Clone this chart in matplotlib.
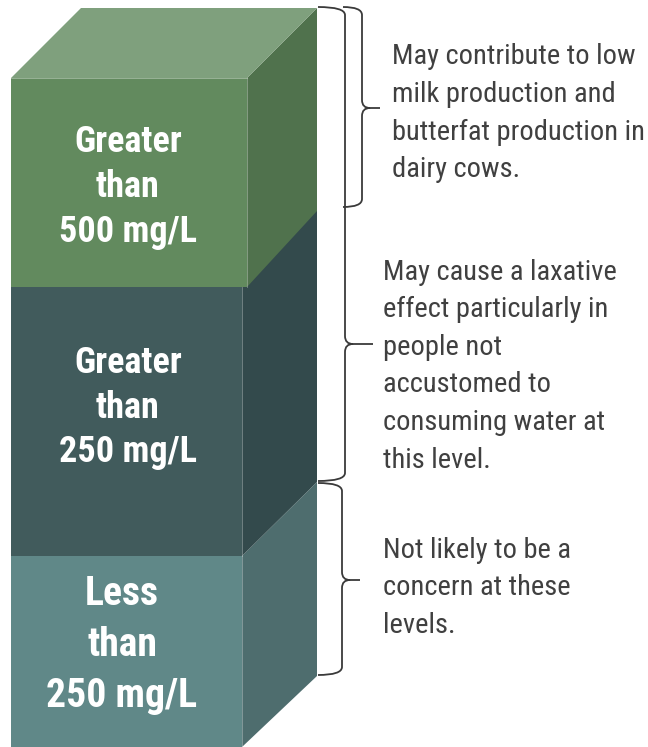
import matplotlib
matplotlib.use("Agg")
import matplotlib.pyplot as plt
from matplotlib.patches import Polygon, PathPatch
from matplotlib.path import Path
from matplotlib import font_manager

# block labels, top to bottom
block_labels = [["Greater", "than", "500 mg/L"],
                ["Greater", "than", "250 mg/L"],
                ["Less", "than", "250 mg/L"]]
# notes next to the braces
notes = [["May contribute to low", "milk production and",
          "butterfat production in", "dairy cows."],
         ["May cause a laxative", "effect particularly in", "people not",
          "accustomed to", "consuming water at", "this level."],
         ["Not likely to be a", "concern at these", "levels."]]

front_cols = ["#628a5e", "#415b5c", "#608888"]
side_cols = ["#50724d", "#334a4c", "#4e6d6e"]
top_col = "#7fa07d"
txt_col = "#404040"

# an Arial Narrow look-alike
names = {f.name for f in font_manager.fontManager.ttflist}
narrow = "Liberation Sans"
for cand in ["Liberation Sans Narrow", "Arimo Narrow", "Roboto Condensed",
             "PT Sans Narrow", "Archivo Narrow", "Barlow Semi Condensed"]:
    if cand in names:
        narrow = cand
        break

fig = plt.figure(figsize=(6.48, 7.47), dpi=100)
ax = fig.add_axes([0, 0, 1, 1])
ax.set_xlim(0, 648)
ax.set_ylim(747, 0)
ax.axis("off")

# block geometry in pixel units: (x left, x right, y top, y bottom)
fronts = [(11, 247, 78, 287), (11, 242, 287, 556), (11, 242, 556, 747)]
back_x = 317
sides = [[(247, 78), (back_x, 8), (back_x, 211), (247, 287)],
         [(242, 287), (back_x, 209), (back_x, 482), (242, 556)],
         [(242, 556), (back_x, 482), (back_x, 676), (242, 747)]]

# draw from the bottom up so upper blocks sit on top
for i in [2, 1, 0]:
    x0, x1, y0, y1 = fronts[i]
    ax.add_patch(Polygon(sides[i], closed=True, fc=side_cols[i], ec="none"))
    ax.add_patch(Polygon([(x0, y0), (x1, y0), (x1, y1), (x0, y1)], closed=True,
                         fc=front_cols[i], ec="none"))
    ax.plot([x1, x1], [y0, y1], color="white", lw=0.6, alpha=0.35)

ax.add_patch(Polygon([(11, 78), (81, 8), (back_x, 8), (247, 78)], closed=True,
                     fc=top_col, ec="none"))
ax.plot([11, 247], [78, 78], color="white", lw=0.6, alpha=0.4)

# labels on the blocks
label_y = [[142, 187, 232], [363, 408, 452], [594, 645, 696]]
label_x = [128, 128, 122]
label_size = [26, 26, 28.5]
for i in range(3):
    for j, s in enumerate(block_labels[i]):
        ax.text(label_x[i], label_y[i][j], s, color="white", fontsize=label_size[i],
                fontweight="bold", ha="center", va="center", family=narrow)


def brace(x_end, x_spine, x_tip, y_top, y_bot, y_tip, r=8):
    verts = [(x_end, y_top), (x_spine, y_top), (x_spine, y_top + r),
             (x_spine, y_tip - r), (x_spine, y_tip), (x_spine + r, y_tip),
             (x_tip, y_tip),
             (x_spine + r, y_tip), (x_spine, y_tip), (x_spine, y_tip + r),
             (x_spine, y_bot - r), (x_spine, y_bot), (x_end, y_bot)]
    codes = [Path.MOVETO, Path.CURVE3, Path.CURVE3,
             Path.LINETO, Path.CURVE3, Path.CURVE3,
             Path.LINETO,
             Path.MOVETO, Path.CURVE3, Path.CURVE3,
             Path.LINETO, Path.CURVE3, Path.CURVE3]
    ax.add_patch(PathPatch(Path(verts, codes), fc="none", ec="#3a3a3a", lw=1.3))


brace(343, 362, 380, 7, 207, 108)
brace(318, 345, 373, 7, 481, 344)
brace(318, 342, 360, 483, 675, 580)

# notes
note_x = [392, 383, 383]
note_y0 = [57, 272, 550]
note_gap = 37.6
for i in range(3):
    for j, s in enumerate(notes[i]):
        ax.text(note_x[i], note_y0[i] + j * note_gap, s, color=txt_col, fontsize=20.5,
                ha="left", va="center", family=narrow)

fig.savefig("out.png", dpi=100)
